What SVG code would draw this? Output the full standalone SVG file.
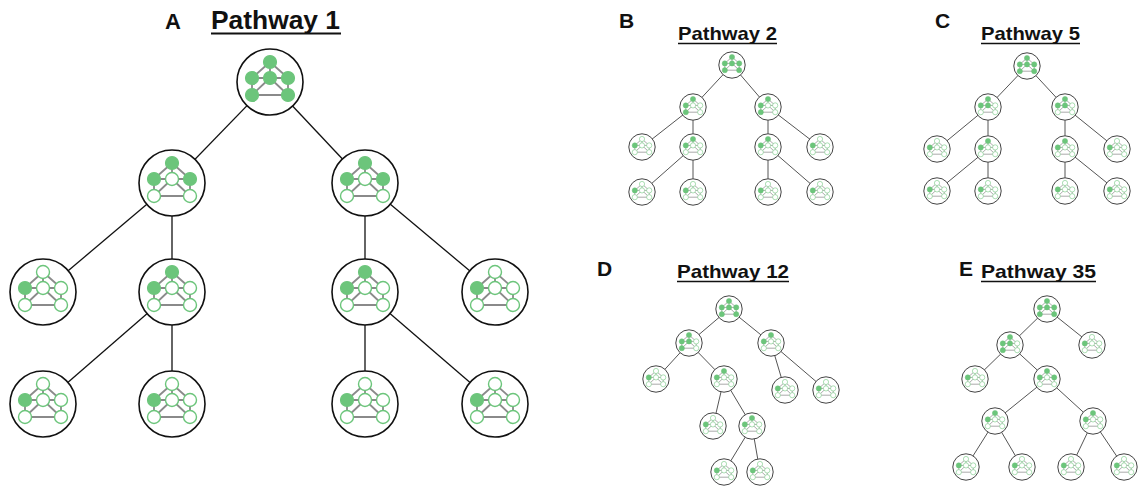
<svg xmlns="http://www.w3.org/2000/svg" xmlns:xlink="http://www.w3.org/1999/xlink" width="1138" height="491" viewBox="0 0 1138 491">
<style>
.bg{fill:#fff}
.t{font-family:"Liberation Sans",Arial,sans-serif;font-weight:bold;fill:#111}
.ul{stroke:#111;stroke-width:2}
.o{fill:#fff;stroke:#111;stroke-width:1.6;vector-effect:non-scaling-stroke}
.os{fill:#fff;stroke:#444;stroke-width:1;vector-effect:non-scaling-stroke}
.f{fill:#6cc57b;stroke:#6cc57b;stroke-width:1.2}
.h{fill:#fff;stroke:#6cc57b;stroke-width:1.4}
.gl{stroke:#8a8a8a;stroke-width:1.8;fill:none}
.e{stroke:#111;stroke-width:1.3}
.es{stroke:#555;stroke-width:1}
</style>
<defs>
<g id="gl" class="gl">
<line x1="0" y1="-20" x2="-18" y2="-4"/>
<line x1="0" y1="-20" x2="18" y2="-4"/>
<line x1="0" y1="-20" x2="0" y2="-4"/>
<line x1="-18" y1="-4" x2="18" y2="-4"/>
<line x1="-18" y1="-4" x2="-18" y2="13"/>
<line x1="18" y1="-4" x2="18" y2="13"/>
<line x1="-18" y1="13" x2="18" y2="13"/>
<line x1="0" y1="-4" x2="-18" y2="13"/>
<line x1="0" y1="-4" x2="18" y2="13"/>
</g>
</defs>
<rect class="bg" x="0" y="0" width="1138" height="491"/>

<g id="titles">
<text class="t" x="165" y="29" font-size="22">A</text>
<text class="t" x="211" y="29" font-size="25" textLength="129" lengthAdjust="spacingAndGlyphs">Pathway 1</text>
<line class="ul" x1="211" y1="33.5" x2="341" y2="33.5"/>
<text class="t" x="619" y="28" font-size="21">B</text>
<text class="t" x="678" y="40" font-size="19" textLength="99" lengthAdjust="spacingAndGlyphs">Pathway 2</text>
<line class="ul" x1="678" y1="43.5" x2="777" y2="43.5" style="stroke-width:1.6"/>
<text class="t" x="935" y="28" font-size="21">C</text>
<text class="t" x="981" y="40" font-size="19" textLength="99" lengthAdjust="spacingAndGlyphs">Pathway 5</text>
<line class="ul" x1="981" y1="43.5" x2="1080" y2="43.5" style="stroke-width:1.6"/>
<text class="t" x="597" y="276" font-size="21">D</text>
<text class="t" x="677" y="278" font-size="19" textLength="112" lengthAdjust="spacingAndGlyphs">Pathway 12</text>
<line class="ul" x1="677" y1="281.5" x2="789" y2="281.5" style="stroke-width:1.6"/>
<text class="t" x="959" y="276" font-size="21">E</text>
<text class="t" x="981" y="278" font-size="19" textLength="115" lengthAdjust="spacingAndGlyphs">Pathway 35</text>
<line class="ul" x1="981" y1="281.5" x2="1096" y2="281.5" style="stroke-width:1.6"/>
</g>

<g id="connectors">
<g class="e">
<line x1="270" y1="82" x2="172" y2="183"/>
<line x1="270" y1="82" x2="365" y2="183"/>
<line x1="172" y1="183" x2="43" y2="292"/>
<line x1="172" y1="183" x2="172" y2="292"/>
<line x1="365" y1="183" x2="365" y2="292"/>
<line x1="365" y1="183" x2="495" y2="292"/>
<line x1="172" y1="292" x2="43" y2="404"/>
<line x1="172" y1="292" x2="172" y2="404"/>
<line x1="365" y1="292" x2="365" y2="404"/>
<line x1="365" y1="292" x2="495" y2="404"/>
</g>
<g class="es">
<line x1="732" y1="65" x2="693" y2="107"/>
<line x1="732" y1="65" x2="768" y2="107"/>
<line x1="693" y1="107" x2="642" y2="147"/>
<line x1="693" y1="107" x2="693" y2="147"/>
<line x1="768" y1="107" x2="768" y2="147"/>
<line x1="768" y1="107" x2="820" y2="147"/>
<line x1="693" y1="147" x2="642" y2="192"/>
<line x1="693" y1="147" x2="693" y2="192"/>
<line x1="768" y1="147" x2="768" y2="192"/>
<line x1="768" y1="147" x2="820" y2="192"/>

<line x1="1027" y1="66" x2="988" y2="107"/>
<line x1="1027" y1="66" x2="1065" y2="107"/>
<line x1="988" y1="107" x2="937" y2="149"/>
<line x1="988" y1="107" x2="988" y2="149"/>
<line x1="1065" y1="107" x2="1065" y2="149"/>
<line x1="1065" y1="107" x2="1117" y2="149"/>
<line x1="988" y1="149" x2="937" y2="191"/>
<line x1="988" y1="149" x2="988" y2="191"/>
<line x1="1065" y1="149" x2="1065" y2="191"/>
<line x1="1065" y1="149" x2="1117" y2="191"/>

<line x1="729" y1="309" x2="689" y2="343"/>
<line x1="729" y1="309" x2="771" y2="343"/>
<line x1="689" y1="343" x2="656" y2="379"/>
<line x1="689" y1="343" x2="724" y2="379"/>
<line x1="771" y1="343" x2="785" y2="390"/>
<line x1="771" y1="343" x2="826" y2="390"/>
<line x1="724" y1="379" x2="713" y2="426"/>
<line x1="724" y1="379" x2="752" y2="426"/>
<line x1="752" y1="426" x2="724" y2="472"/>
<line x1="752" y1="426" x2="760" y2="472"/>

<line x1="1047" y1="309" x2="1010" y2="345"/>
<line x1="1047" y1="309" x2="1092" y2="345"/>
<line x1="1010" y1="345" x2="975" y2="379"/>
<line x1="1010" y1="345" x2="1047" y2="379"/>
<line x1="1047" y1="379" x2="995" y2="421"/>
<line x1="1047" y1="379" x2="1093" y2="421"/>
<line x1="995" y1="421" x2="966" y2="467"/>
<line x1="995" y1="421" x2="1022" y2="467"/>
<line x1="1093" y1="421" x2="1071" y2="467"/>
<line x1="1093" y1="421" x2="1124" y2="467"/>
</g>
</g>

<!-- Pathway 1 nodes -->
<g id="p1-root" transform="translate(270,82)"><circle class="o" r="33"/><use href="#gl"/>
<circle class="f" cx="0" cy="-20" r="6.5"/><circle class="f" cx="-18" cy="-4" r="6.5"/><circle class="f" cx="0" cy="-4" r="6.5"/><circle class="f" cx="18" cy="-4" r="6.5"/><circle class="f" cx="-18" cy="13" r="6.5"/><circle class="f" cx="18" cy="13" r="6.5"/></g>
<g id="p1-a" transform="translate(172,183)"><circle class="o" r="33"/><use href="#gl"/>
<circle class="f" cx="0" cy="-20" r="6.5"/><circle class="f" cx="-18" cy="-4" r="6.5"/><circle class="h" cx="0" cy="-4" r="6.5"/><circle class="f" cx="18" cy="-4" r="6.5"/><circle class="h" cx="-18" cy="13" r="6.5"/><circle class="h" cx="18" cy="13" r="6.5"/></g>
<g id="p1-b" transform="translate(365,183)"><circle class="o" r="33"/><use href="#gl"/>
<circle class="f" cx="0" cy="-20" r="6.5"/><circle class="f" cx="-18" cy="-4" r="6.5"/><circle class="h" cx="0" cy="-4" r="6.5"/><circle class="f" cx="18" cy="-4" r="6.5"/><circle class="h" cx="-18" cy="13" r="6.5"/><circle class="h" cx="18" cy="13" r="6.5"/></g>
<g id="p1-c" transform="translate(43,292)"><circle class="o" r="33"/><use href="#gl"/>
<circle class="h" cx="0" cy="-20" r="6.5"/><circle class="f" cx="-18" cy="-4" r="6.5"/><circle class="h" cx="0" cy="-4" r="6.5"/><circle class="h" cx="18" cy="-4" r="6.5"/><circle class="h" cx="-18" cy="13" r="6.5"/><circle class="h" cx="18" cy="13" r="6.5"/></g>
<g id="p1-d" transform="translate(172,292)"><circle class="o" r="33"/><use href="#gl"/>
<circle class="f" cx="0" cy="-20" r="6.5"/><circle class="f" cx="-18" cy="-4" r="6.5"/><circle class="h" cx="0" cy="-4" r="6.5"/><circle class="h" cx="18" cy="-4" r="6.5"/><circle class="h" cx="-18" cy="13" r="6.5"/><circle class="h" cx="18" cy="13" r="6.5"/></g>
<g id="p1-e" transform="translate(365,292)"><circle class="o" r="33"/><use href="#gl"/>
<circle class="f" cx="0" cy="-20" r="6.5"/><circle class="f" cx="-18" cy="-4" r="6.5"/><circle class="h" cx="0" cy="-4" r="6.5"/><circle class="h" cx="18" cy="-4" r="6.5"/><circle class="h" cx="-18" cy="13" r="6.5"/><circle class="h" cx="18" cy="13" r="6.5"/></g>
<g id="p1-f" transform="translate(495,292)"><circle class="o" r="33"/><use href="#gl"/>
<circle class="h" cx="0" cy="-20" r="6.5"/><circle class="f" cx="-18" cy="-4" r="6.5"/><circle class="h" cx="0" cy="-4" r="6.5"/><circle class="h" cx="18" cy="-4" r="6.5"/><circle class="h" cx="-18" cy="13" r="6.5"/><circle class="h" cx="18" cy="13" r="6.5"/></g>
<g id="p1-g" transform="translate(43,404)"><circle class="o" r="33"/><use href="#gl"/>
<circle class="h" cx="0" cy="-20" r="6.5"/><circle class="f" cx="-18" cy="-4" r="6.5"/><circle class="h" cx="0" cy="-4" r="6.5"/><circle class="h" cx="18" cy="-4" r="6.5"/><circle class="h" cx="-18" cy="13" r="6.5"/><circle class="h" cx="18" cy="13" r="6.5"/></g>
<g id="p1-h" transform="translate(172,404)"><circle class="o" r="33"/><use href="#gl"/>
<circle class="h" cx="0" cy="-20" r="6.5"/><circle class="f" cx="-18" cy="-4" r="6.5"/><circle class="h" cx="0" cy="-4" r="6.5"/><circle class="h" cx="18" cy="-4" r="6.5"/><circle class="h" cx="-18" cy="13" r="6.5"/><circle class="h" cx="18" cy="13" r="6.5"/></g>
<g id="p1-i" transform="translate(365,404)"><circle class="o" r="33"/><use href="#gl"/>
<circle class="h" cx="0" cy="-20" r="6.5"/><circle class="f" cx="-18" cy="-4" r="6.5"/><circle class="h" cx="0" cy="-4" r="6.5"/><circle class="h" cx="18" cy="-4" r="6.5"/><circle class="h" cx="-18" cy="13" r="6.5"/><circle class="h" cx="18" cy="13" r="6.5"/></g>
<g id="p1-j" transform="translate(495,404)"><circle class="o" r="33"/><use href="#gl"/>
<circle class="h" cx="0" cy="-20" r="6.5"/><circle class="f" cx="-18" cy="-4" r="6.5"/><circle class="h" cx="0" cy="-4" r="6.5"/><circle class="h" cx="18" cy="-4" r="6.5"/><circle class="h" cx="-18" cy="13" r="6.5"/><circle class="h" cx="18" cy="13" r="6.5"/></g>

<!-- Pathway 2 -->
<g id="p2-root" transform="translate(732,65) scale(0.4)"><circle class="os" r="33"/><use href="#gl"/>
<circle class="f" cx="0" cy="-20" r="6.5"/><circle class="f" cx="-18" cy="-4" r="6.5"/><circle class="f" cx="0" cy="-4" r="6.5"/><circle class="f" cx="18" cy="-4" r="6.5"/><circle class="f" cx="-18" cy="13" r="6.5"/><circle class="f" cx="18" cy="13" r="6.5"/></g>
<g id="p2-a" transform="translate(693,107) scale(0.4)"><circle class="os" r="33"/><use href="#gl"/>
<circle class="f" cx="0" cy="-20" r="6.5"/><circle class="f" cx="-18" cy="-4" r="6.5"/><circle class="h" cx="0" cy="-4" r="6.5"/><circle class="h" cx="18" cy="-4" r="6.5"/><circle class="f" cx="-18" cy="13" r="6.5"/><circle class="h" cx="18" cy="13" r="6.5"/></g>
<g id="p2-b" transform="translate(768,107) scale(0.4)"><circle class="os" r="33"/><use href="#gl"/>
<circle class="f" cx="0" cy="-20" r="6.5"/><circle class="f" cx="-18" cy="-4" r="6.5"/><circle class="h" cx="0" cy="-4" r="6.5"/><circle class="h" cx="18" cy="-4" r="6.5"/><circle class="f" cx="-18" cy="13" r="6.5"/><circle class="h" cx="18" cy="13" r="6.5"/></g>
<g id="p2-c" transform="translate(642,147) scale(0.4)"><circle class="os" r="33"/><use href="#gl"/>
<circle class="h" cx="0" cy="-20" r="6.5"/><circle class="f" cx="-18" cy="-4" r="6.5"/><circle class="h" cx="0" cy="-4" r="6.5"/><circle class="h" cx="18" cy="-4" r="6.5"/><circle class="h" cx="-18" cy="13" r="6.5"/><circle class="h" cx="18" cy="13" r="6.5"/></g>
<g id="p2-d" transform="translate(693,147) scale(0.4)"><circle class="os" r="33"/><use href="#gl"/>
<circle class="f" cx="0" cy="-20" r="6.5"/><circle class="f" cx="-18" cy="-4" r="6.5"/><circle class="h" cx="0" cy="-4" r="6.5"/><circle class="h" cx="18" cy="-4" r="6.5"/><circle class="h" cx="-18" cy="13" r="6.5"/><circle class="h" cx="18" cy="13" r="6.5"/></g>
<g id="p2-e" transform="translate(768,147) scale(0.4)"><circle class="os" r="33"/><use href="#gl"/>
<circle class="f" cx="0" cy="-20" r="6.5"/><circle class="f" cx="-18" cy="-4" r="6.5"/><circle class="h" cx="0" cy="-4" r="6.5"/><circle class="h" cx="18" cy="-4" r="6.5"/><circle class="h" cx="-18" cy="13" r="6.5"/><circle class="h" cx="18" cy="13" r="6.5"/></g>
<g id="p2-f" transform="translate(820,147) scale(0.4)"><circle class="os" r="33"/><use href="#gl"/>
<circle class="h" cx="0" cy="-20" r="6.5"/><circle class="f" cx="-18" cy="-4" r="6.5"/><circle class="h" cx="0" cy="-4" r="6.5"/><circle class="h" cx="18" cy="-4" r="6.5"/><circle class="h" cx="-18" cy="13" r="6.5"/><circle class="h" cx="18" cy="13" r="6.5"/></g>
<g id="p2-g" transform="translate(642,192) scale(0.4)"><circle class="os" r="33"/><use href="#gl"/>
<circle class="h" cx="0" cy="-20" r="6.5"/><circle class="f" cx="-18" cy="-4" r="6.5"/><circle class="h" cx="0" cy="-4" r="6.5"/><circle class="h" cx="18" cy="-4" r="6.5"/><circle class="h" cx="-18" cy="13" r="6.5"/><circle class="h" cx="18" cy="13" r="6.5"/></g>
<g id="p2-h" transform="translate(693,192) scale(0.4)"><circle class="os" r="33"/><use href="#gl"/>
<circle class="h" cx="0" cy="-20" r="6.5"/><circle class="f" cx="-18" cy="-4" r="6.5"/><circle class="h" cx="0" cy="-4" r="6.5"/><circle class="h" cx="18" cy="-4" r="6.5"/><circle class="h" cx="-18" cy="13" r="6.5"/><circle class="h" cx="18" cy="13" r="6.5"/></g>
<g id="p2-i" transform="translate(768,192) scale(0.4)"><circle class="os" r="33"/><use href="#gl"/>
<circle class="h" cx="0" cy="-20" r="6.5"/><circle class="f" cx="-18" cy="-4" r="6.5"/><circle class="h" cx="0" cy="-4" r="6.5"/><circle class="h" cx="18" cy="-4" r="6.5"/><circle class="h" cx="-18" cy="13" r="6.5"/><circle class="h" cx="18" cy="13" r="6.5"/></g>
<g id="p2-j" transform="translate(820,192) scale(0.4)"><circle class="os" r="33"/><use href="#gl"/>
<circle class="h" cx="0" cy="-20" r="6.5"/><circle class="f" cx="-18" cy="-4" r="6.5"/><circle class="h" cx="0" cy="-4" r="6.5"/><circle class="h" cx="18" cy="-4" r="6.5"/><circle class="h" cx="-18" cy="13" r="6.5"/><circle class="h" cx="18" cy="13" r="6.5"/></g>

<!-- Pathway 5 -->
<g id="p5-root" transform="translate(1027,66) scale(0.4)"><circle class="os" r="33"/><use href="#gl"/>
<circle class="f" cx="0" cy="-20" r="6.5"/><circle class="f" cx="-18" cy="-4" r="6.5"/><circle class="f" cx="0" cy="-4" r="6.5"/><circle class="f" cx="18" cy="-4" r="6.5"/><circle class="f" cx="-18" cy="13" r="6.5"/><circle class="f" cx="18" cy="13" r="6.5"/></g>
<g id="p5-a" transform="translate(988,107) scale(0.4)"><circle class="os" r="33"/><use href="#gl"/>
<circle class="f" cx="0" cy="-20" r="6.5"/><circle class="f" cx="-18" cy="-4" r="6.5"/><circle class="f" cx="0" cy="-4" r="6.5"/><circle class="h" cx="18" cy="-4" r="6.5"/><circle class="h" cx="-18" cy="13" r="6.5"/><circle class="h" cx="18" cy="13" r="6.5"/></g>
<g id="p5-b" transform="translate(1065,107) scale(0.4)"><circle class="os" r="33"/><use href="#gl"/>
<circle class="f" cx="0" cy="-20" r="6.5"/><circle class="f" cx="-18" cy="-4" r="6.5"/><circle class="f" cx="0" cy="-4" r="6.5"/><circle class="h" cx="18" cy="-4" r="6.5"/><circle class="h" cx="-18" cy="13" r="6.5"/><circle class="h" cx="18" cy="13" r="6.5"/></g>
<g id="p5-c" transform="translate(937,149) scale(0.4)"><circle class="os" r="33"/><use href="#gl"/>
<circle class="h" cx="0" cy="-20" r="6.5"/><circle class="f" cx="-18" cy="-4" r="6.5"/><circle class="h" cx="0" cy="-4" r="6.5"/><circle class="h" cx="18" cy="-4" r="6.5"/><circle class="h" cx="-18" cy="13" r="6.5"/><circle class="h" cx="18" cy="13" r="6.5"/></g>
<g id="p5-d" transform="translate(988,149) scale(0.4)"><circle class="os" r="33"/><use href="#gl"/>
<circle class="f" cx="0" cy="-20" r="6.5"/><circle class="f" cx="-18" cy="-4" r="6.5"/><circle class="h" cx="0" cy="-4" r="6.5"/><circle class="h" cx="18" cy="-4" r="6.5"/><circle class="h" cx="-18" cy="13" r="6.5"/><circle class="h" cx="18" cy="13" r="6.5"/></g>
<g id="p5-e" transform="translate(1065,149) scale(0.4)"><circle class="os" r="33"/><use href="#gl"/>
<circle class="f" cx="0" cy="-20" r="6.5"/><circle class="f" cx="-18" cy="-4" r="6.5"/><circle class="h" cx="0" cy="-4" r="6.5"/><circle class="h" cx="18" cy="-4" r="6.5"/><circle class="h" cx="-18" cy="13" r="6.5"/><circle class="h" cx="18" cy="13" r="6.5"/></g>
<g id="p5-f" transform="translate(1117,149) scale(0.4)"><circle class="os" r="33"/><use href="#gl"/>
<circle class="h" cx="0" cy="-20" r="6.5"/><circle class="f" cx="-18" cy="-4" r="6.5"/><circle class="h" cx="0" cy="-4" r="6.5"/><circle class="h" cx="18" cy="-4" r="6.5"/><circle class="h" cx="-18" cy="13" r="6.5"/><circle class="h" cx="18" cy="13" r="6.5"/></g>
<g id="p5-g" transform="translate(937,191) scale(0.4)"><circle class="os" r="33"/><use href="#gl"/>
<circle class="h" cx="0" cy="-20" r="6.5"/><circle class="f" cx="-18" cy="-4" r="6.5"/><circle class="h" cx="0" cy="-4" r="6.5"/><circle class="h" cx="18" cy="-4" r="6.5"/><circle class="h" cx="-18" cy="13" r="6.5"/><circle class="h" cx="18" cy="13" r="6.5"/></g>
<g id="p5-h" transform="translate(988,191) scale(0.4)"><circle class="os" r="33"/><use href="#gl"/>
<circle class="h" cx="0" cy="-20" r="6.5"/><circle class="f" cx="-18" cy="-4" r="6.5"/><circle class="h" cx="0" cy="-4" r="6.5"/><circle class="h" cx="18" cy="-4" r="6.5"/><circle class="h" cx="-18" cy="13" r="6.5"/><circle class="h" cx="18" cy="13" r="6.5"/></g>
<g id="p5-i" transform="translate(1065,191) scale(0.4)"><circle class="os" r="33"/><use href="#gl"/>
<circle class="h" cx="0" cy="-20" r="6.5"/><circle class="f" cx="-18" cy="-4" r="6.5"/><circle class="h" cx="0" cy="-4" r="6.5"/><circle class="h" cx="18" cy="-4" r="6.5"/><circle class="h" cx="-18" cy="13" r="6.5"/><circle class="h" cx="18" cy="13" r="6.5"/></g>
<g id="p5-j" transform="translate(1117,191) scale(0.4)"><circle class="os" r="33"/><use href="#gl"/>
<circle class="h" cx="0" cy="-20" r="6.5"/><circle class="f" cx="-18" cy="-4" r="6.5"/><circle class="h" cx="0" cy="-4" r="6.5"/><circle class="h" cx="18" cy="-4" r="6.5"/><circle class="h" cx="-18" cy="13" r="6.5"/><circle class="h" cx="18" cy="13" r="6.5"/></g>

<!-- Pathway 12 -->
<g id="p12-root" transform="translate(729,309) scale(0.4)"><circle class="os" r="33"/><use href="#gl"/>
<circle class="f" cx="0" cy="-20" r="6.5"/><circle class="f" cx="-18" cy="-4" r="6.5"/><circle class="f" cx="0" cy="-4" r="6.5"/><circle class="f" cx="18" cy="-4" r="6.5"/><circle class="f" cx="-18" cy="13" r="6.5"/><circle class="f" cx="18" cy="13" r="6.5"/></g>
<g id="p12-a" transform="translate(689,343) scale(0.4)"><circle class="os" r="33"/><use href="#gl"/>
<circle class="f" cx="0" cy="-20" r="6.5"/><circle class="f" cx="-18" cy="-4" r="6.5"/><circle class="f" cx="0" cy="-4" r="6.5"/><circle class="h" cx="18" cy="-4" r="6.5"/><circle class="f" cx="-18" cy="13" r="6.5"/><circle class="h" cx="18" cy="13" r="6.5"/></g>
<g id="p12-b" transform="translate(771,343) scale(0.4)"><circle class="os" r="33"/><use href="#gl"/>
<circle class="f" cx="0" cy="-20" r="6.5"/><circle class="f" cx="-18" cy="-4" r="6.5"/><circle class="h" cx="0" cy="-4" r="6.5"/><circle class="h" cx="18" cy="-4" r="6.5"/><circle class="h" cx="-18" cy="13" r="6.5"/><circle class="h" cx="18" cy="13" r="6.5"/></g>
<g id="p12-c" transform="translate(656,379) scale(0.4)"><circle class="os" r="33"/><use href="#gl"/>
<circle class="h" cx="0" cy="-20" r="6.5"/><circle class="f" cx="-18" cy="-4" r="6.5"/><circle class="h" cx="0" cy="-4" r="6.5"/><circle class="h" cx="18" cy="-4" r="6.5"/><circle class="h" cx="-18" cy="13" r="6.5"/><circle class="h" cx="18" cy="13" r="6.5"/></g>
<g id="p12-d" transform="translate(724,379) scale(0.4)"><circle class="os" r="33"/><use href="#gl"/>
<circle class="f" cx="0" cy="-20" r="6.5"/><circle class="f" cx="-18" cy="-4" r="6.5"/><circle class="h" cx="0" cy="-4" r="6.5"/><circle class="h" cx="18" cy="-4" r="6.5"/><circle class="h" cx="-18" cy="13" r="6.5"/><circle class="h" cx="18" cy="13" r="6.5"/></g>
<g id="p12-e" transform="translate(785,390) scale(0.4)"><circle class="os" r="33"/><use href="#gl"/>
<circle class="h" cx="0" cy="-20" r="6.5"/><circle class="f" cx="-18" cy="-4" r="6.5"/><circle class="h" cx="0" cy="-4" r="6.5"/><circle class="h" cx="18" cy="-4" r="6.5"/><circle class="h" cx="-18" cy="13" r="6.5"/><circle class="h" cx="18" cy="13" r="6.5"/></g>
<g id="p12-f" transform="translate(826,390) scale(0.4)"><circle class="os" r="33"/><use href="#gl"/>
<circle class="h" cx="0" cy="-20" r="6.5"/><circle class="f" cx="-18" cy="-4" r="6.5"/><circle class="h" cx="0" cy="-4" r="6.5"/><circle class="h" cx="18" cy="-4" r="6.5"/><circle class="h" cx="-18" cy="13" r="6.5"/><circle class="h" cx="18" cy="13" r="6.5"/></g>
<g id="p12-g" transform="translate(713,426) scale(0.4)"><circle class="os" r="33"/><use href="#gl"/>
<circle class="h" cx="0" cy="-20" r="6.5"/><circle class="f" cx="-18" cy="-4" r="6.5"/><circle class="h" cx="0" cy="-4" r="6.5"/><circle class="h" cx="18" cy="-4" r="6.5"/><circle class="h" cx="-18" cy="13" r="6.5"/><circle class="h" cx="18" cy="13" r="6.5"/></g>
<g id="p12-h" transform="translate(752,426) scale(0.4)"><circle class="os" r="33"/><use href="#gl"/>
<circle class="f" cx="0" cy="-20" r="6.5"/><circle class="f" cx="-18" cy="-4" r="6.5"/><circle class="h" cx="0" cy="-4" r="6.5"/><circle class="h" cx="18" cy="-4" r="6.5"/><circle class="h" cx="-18" cy="13" r="6.5"/><circle class="h" cx="18" cy="13" r="6.5"/></g>
<g id="p12-i" transform="translate(724,472) scale(0.4)"><circle class="os" r="33"/><use href="#gl"/>
<circle class="h" cx="0" cy="-20" r="6.5"/><circle class="f" cx="-18" cy="-4" r="6.5"/><circle class="h" cx="0" cy="-4" r="6.5"/><circle class="h" cx="18" cy="-4" r="6.5"/><circle class="h" cx="-18" cy="13" r="6.5"/><circle class="h" cx="18" cy="13" r="6.5"/></g>
<g id="p12-j" transform="translate(760,472) scale(0.4)"><circle class="os" r="33"/><use href="#gl"/>
<circle class="h" cx="0" cy="-20" r="6.5"/><circle class="f" cx="-18" cy="-4" r="6.5"/><circle class="h" cx="0" cy="-4" r="6.5"/><circle class="h" cx="18" cy="-4" r="6.5"/><circle class="h" cx="-18" cy="13" r="6.5"/><circle class="h" cx="18" cy="13" r="6.5"/></g>

<!-- Pathway 35 -->
<g id="p35-root" transform="translate(1047,309) scale(0.4)"><circle class="os" r="33"/><use href="#gl"/>
<circle class="f" cx="0" cy="-20" r="6.5"/><circle class="f" cx="-18" cy="-4" r="6.5"/><circle class="f" cx="0" cy="-4" r="6.5"/><circle class="f" cx="18" cy="-4" r="6.5"/><circle class="f" cx="-18" cy="13" r="6.5"/><circle class="f" cx="18" cy="13" r="6.5"/></g>
<g id="p35-a" transform="translate(1010,345) scale(0.4)"><circle class="os" r="33"/><use href="#gl"/>
<circle class="f" cx="0" cy="-20" r="6.5"/><circle class="f" cx="-18" cy="-4" r="6.5"/><circle class="f" cx="0" cy="-4" r="6.5"/><circle class="h" cx="18" cy="-4" r="6.5"/><circle class="f" cx="-18" cy="13" r="6.5"/><circle class="h" cx="18" cy="13" r="6.5"/></g>
<g id="p35-b" transform="translate(1092,345) scale(0.4)"><circle class="os" r="33"/><use href="#gl"/>
<circle class="h" cx="0" cy="-20" r="6.5"/><circle class="f" cx="-18" cy="-4" r="6.5"/><circle class="h" cx="0" cy="-4" r="6.5"/><circle class="h" cx="18" cy="-4" r="6.5"/><circle class="h" cx="-18" cy="13" r="6.5"/><circle class="h" cx="18" cy="13" r="6.5"/></g>
<g id="p35-c" transform="translate(975,379) scale(0.4)"><circle class="os" r="33"/><use href="#gl"/>
<circle class="h" cx="0" cy="-20" r="6.5"/><circle class="f" cx="-18" cy="-4" r="6.5"/><circle class="h" cx="0" cy="-4" r="6.5"/><circle class="h" cx="18" cy="-4" r="6.5"/><circle class="h" cx="-18" cy="13" r="6.5"/><circle class="h" cx="18" cy="13" r="6.5"/></g>
<g id="p35-d" transform="translate(1047,379) scale(0.4)"><circle class="os" r="33"/><use href="#gl"/>
<circle class="f" cx="0" cy="-20" r="6.5"/><circle class="f" cx="-18" cy="-4" r="6.5"/><circle class="h" cx="0" cy="-4" r="6.5"/><circle class="f" cx="18" cy="-4" r="6.5"/><circle class="h" cx="-18" cy="13" r="6.5"/><circle class="h" cx="18" cy="13" r="6.5"/></g>
<g id="p35-e" transform="translate(995,421) scale(0.4)"><circle class="os" r="33"/><use href="#gl"/>
<circle class="f" cx="0" cy="-20" r="6.5"/><circle class="f" cx="-18" cy="-4" r="6.5"/><circle class="h" cx="0" cy="-4" r="6.5"/><circle class="h" cx="18" cy="-4" r="6.5"/><circle class="h" cx="-18" cy="13" r="6.5"/><circle class="h" cx="18" cy="13" r="6.5"/></g>
<g id="p35-f" transform="translate(1093,421) scale(0.4)"><circle class="os" r="33"/><use href="#gl"/>
<circle class="f" cx="0" cy="-20" r="6.5"/><circle class="f" cx="-18" cy="-4" r="6.5"/><circle class="h" cx="0" cy="-4" r="6.5"/><circle class="h" cx="18" cy="-4" r="6.5"/><circle class="h" cx="-18" cy="13" r="6.5"/><circle class="h" cx="18" cy="13" r="6.5"/></g>
<g id="p35-g" transform="translate(966,467) scale(0.4)"><circle class="os" r="33"/><use href="#gl"/>
<circle class="h" cx="0" cy="-20" r="6.5"/><circle class="f" cx="-18" cy="-4" r="6.5"/><circle class="h" cx="0" cy="-4" r="6.5"/><circle class="h" cx="18" cy="-4" r="6.5"/><circle class="h" cx="-18" cy="13" r="6.5"/><circle class="h" cx="18" cy="13" r="6.5"/></g>
<g id="p35-h" transform="translate(1022,467) scale(0.4)"><circle class="os" r="33"/><use href="#gl"/>
<circle class="h" cx="0" cy="-20" r="6.5"/><circle class="f" cx="-18" cy="-4" r="6.5"/><circle class="h" cx="0" cy="-4" r="6.5"/><circle class="h" cx="18" cy="-4" r="6.5"/><circle class="h" cx="-18" cy="13" r="6.5"/><circle class="h" cx="18" cy="13" r="6.5"/></g>
<g id="p35-i" transform="translate(1071,467) scale(0.4)"><circle class="os" r="33"/><use href="#gl"/>
<circle class="h" cx="0" cy="-20" r="6.5"/><circle class="f" cx="-18" cy="-4" r="6.5"/><circle class="h" cx="0" cy="-4" r="6.5"/><circle class="h" cx="18" cy="-4" r="6.5"/><circle class="h" cx="-18" cy="13" r="6.5"/><circle class="h" cx="18" cy="13" r="6.5"/></g>
<g id="p35-j" transform="translate(1124,467) scale(0.4)"><circle class="os" r="33"/><use href="#gl"/>
<circle class="h" cx="0" cy="-20" r="6.5"/><circle class="f" cx="-18" cy="-4" r="6.5"/><circle class="h" cx="0" cy="-4" r="6.5"/><circle class="h" cx="18" cy="-4" r="6.5"/><circle class="h" cx="-18" cy="13" r="6.5"/><circle class="h" cx="18" cy="13" r="6.5"/></g>
</svg>
